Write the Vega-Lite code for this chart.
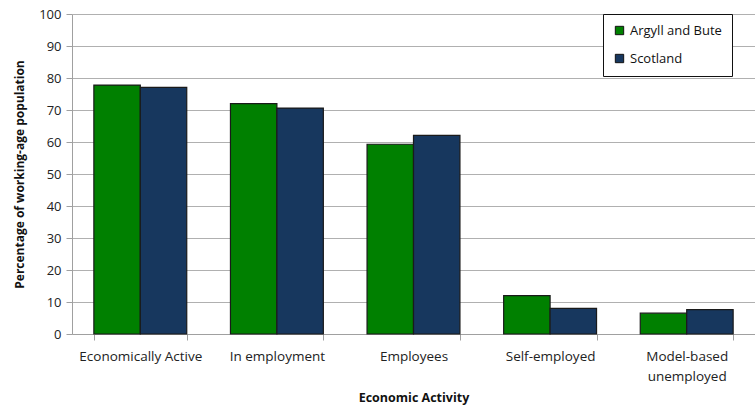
{
  "$schema": "https://vega.github.io/schema/vega-lite/v6.json",
  "autosize": "none",
  "width": 683,
  "height": 320,
  "padding": {"left": 72, "top": 14, "right": 0, "bottom": 73},
  "background": "white",
  "data": {
    "values": [
      {"activity": "Economically Active", "area": "Argyll and Bute", "value": 77.8},
      {"activity": "Economically Active", "area": "Scotland", "value": 77.1},
      {"activity": "In employment", "area": "Argyll and Bute", "value": 72.0},
      {"activity": "In employment", "area": "Scotland", "value": 70.6},
      {"activity": "Employees", "area": "Argyll and Bute", "value": 59.3},
      {"activity": "Employees", "area": "Scotland", "value": 62.1},
      {"activity": "Self-employed", "area": "Argyll and Bute", "value": 12.0},
      {"activity": "Self-employed", "area": "Scotland", "value": 8.0},
      {"activity": "Model-based unemployed", "area": "Argyll and Bute", "value": 6.5},
      {"activity": "Model-based unemployed", "area": "Scotland", "value": 7.6}
    ]
  },
  "config": {
    "view": {"stroke": null},
    "font": "Open Sans",
    "axis": {
      "labelFont": "Open Sans",
      "titleFont": "Open Sans",
      "labelColor": "#222222",
      "titleColor": "#111111",
      "domainColor": "#a0a0a0",
      "tickColor": "#a0a0a0",
      "gridColor": "#b0b0b0"
    }
  },
  "mark": {"type": "bar", "stroke": "#1a1a1a", "strokeWidth": 1.2},
  "encoding": {
    "x": {
      "field": "activity",
      "type": "nominal",
      "sort": null,
      "scale": {"paddingInner": 0.32, "paddingOuter": 0.16},
      "axis": {
        "title": "Economic Activity",
        "titleFontSize": 12.5,
        "titleFontWeight": "bold",
        "titlePadding": 9,
        "labelAngle": 0,
        "labelFontSize": 13.5,
        "labelPadding": 9,
        "labelLineHeight": 20,
        "tickSize": 6,
        "tickBand": "extent",
        "grid": false,
        "labelExpr": "datum.label == 'Model-based unemployed' ? ['Model-based', 'unemployed'] : datum.label"
      }
    },
    "xOffset": {"field": "area", "type": "nominal", "scale": {"paddingInner": 0, "paddingOuter": 0}},
    "y": {
      "field": "value",
      "type": "quantitative",
      "scale": {"domain": [0, 100], "nice": false},
      "axis": {
        "title": "Percentage of working-age population",
        "titleFontSize": 12,
        "titleFontWeight": "bold",
        "titlePadding": 12,
        "values": [0, 10, 20, 30, 40, 50, 60, 70, 80, 90, 100],
        "labelFontSize": 13,
        "labelPadding": 5,
        "tickSize": 6,
        "grid": true
      }
    },
    "color": {
      "field": "area",
      "type": "nominal",
      "scale": {"domain": ["Argyll and Bute", "Scotland"], "range": ["#008000", "#17375e"]},
      "legend": {
        "title": null,
        "orient": "none",
        "legendX": 531,
        "legendY": 0,
        "strokeColor": "#111111",
        "fillColor": "white",
        "padding": 10,
        "rowPadding": 14,
        "symbolType": "square",
        "symbolSize": 70,
        "symbolStrokeColor": "#111111",
        "symbolStrokeWidth": 1,
        "labelFontSize": 13,
        "labelFont": "Open Sans",
        "labelColor": "#111111",
        "labelOffset": 4
      }
    }
  }
}
